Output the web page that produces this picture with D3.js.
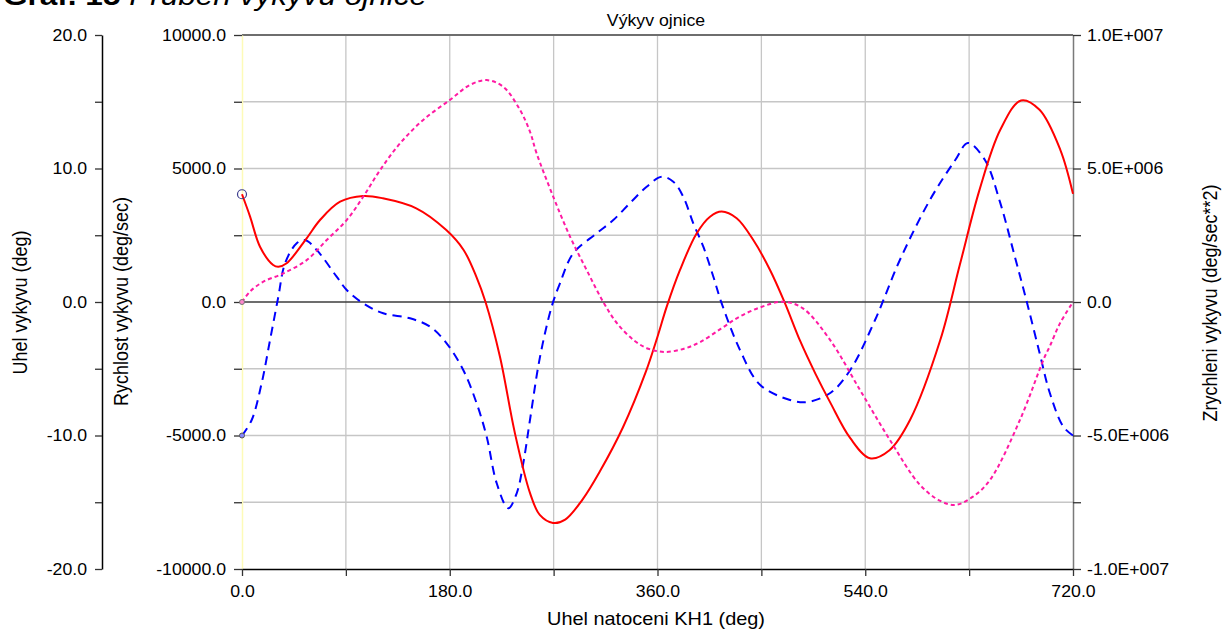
<!DOCTYPE html>
<html>
<head>
<meta charset="utf-8">
<script src="https://cdn.jsdelivr.net/npm/d3@7"></script>
<style>
  html, body { margin: 0; padding: 0; background: #ffffff; }
  svg { display: block; font-family: "Liberation Sans", Arial, sans-serif; }
</style>
</head>
<body>
<svg id="chart" width="1227" height="630"></svg>
<script>
// Crank angle of the KH1 shaft (deg) at which each series was sampled
const angleX = [0, 7, 15.6, 27, 31.5, 38.7, 56, 67.6, 85, 105, 122, 151, 177, 192, 203, 211,
  223.5, 236.5, 249.5, 258, 269.5, 280, 295, 310, 330, 350, 360, 368, 379.5, 394, 405.5,
  415.6, 428.6, 443, 457.5, 470.5, 483.5, 497, 509.5, 527, 544, 561, 579, 605, 622, 639, 657,
  675, 691, 709, 720];
// Swing angle of the connecting rod (deg)
const angleY = [8.07, 6.4, 4.14, 2.77, 2.64, 2.9, 4.77, 6.14, 7.51, 7.94, 7.77, 7.02, 5.39, 3.9, 1.9, 0.0,
  -4.1, -9.84, -14.3, -15.95, -16.55, -16.3, -14.8, -12.7, -9.4, -5.2, -2.6, -0.35, 2.4, 5.15, 6.39,
  6.77, 6.27, 4.64, 2.4, -0.1, -2.9, -5.4, -7.5, -10.2, -11.7, -11.1, -8.8, -2.85, 2.8, 8.4, 12.9,
  15.1, 14.4, 11.4, 8.1];

const velocityX = [0, 8.4, 17, 24.3, 31.5, 37.3, 47.4, 54.6, 64.7, 82, 90.7, 105, 122.4, 145.6, 163,
  177.3, 191.7, 203.3, 212, 220.7, 230.7, 238, 243.7, 249.5, 258, 268.3, 275.5, 287, 307.3, 321.7,
  336, 350.6, 363.6, 373.7, 382.3, 391, 399.7, 408.4, 415.6, 431.5, 448.8, 474.8, 490, 510, 527,
  548.5, 570, 596, 618, 629, 643.7, 656.7, 669.6, 680, 691, 700, 711.6, 720];
// Swing velocity (deg/sec)
const velocityY = [-5000, -4420, -3045, -1423, 200, 1450, 2200, 2322, 1950, 950, 450, -50, -423, -611, -925,
  -1547, -2547, -3794, -5045, -6790, -7727, -7165, -6040, -4420, -2100, -175, 700, 1824, 2573, 3071,
  3697, 4318, 4693, 4506, 3944, 2948, 2071, 948, -50, -1800, -3100, -3670, -3745, -3400, -2547,
  -674, 1573, 3820, 5318, 5955, 5318, 3750, 1700, 0, -1900, -3420, -4670, -5000];

const accelX = [0, 6.9, 18.5, 35.8, 56, 73.4, 90.7, 105, 119.6, 136.9, 157, 180.2, 197.5, 212, 226.4,
  240.9, 249.5, 255, 269.7, 284.2, 298.6, 313, 325, 340, 352, 366.5, 383, 397, 415, 431, 449, 469, 486,
  509.5, 535.5, 561.4, 587.4, 605, 618, 633, 648, 674, 695, 700, 708.7, 720];
// Swing acceleration (deg/sec**2)
const accelY = [0, 0.39e6, 0.76e6, 1.07e6, 1.57e6, 2.32e6, 3.07e6, 3.94e6, 4.94e6, 5.94e6, 6.82e6, 7.57e6, 8.13e6, 8.31e6, 8.06e6,
  7.19e6, 6.38e6, 5.6e6, 3.94e6, 2.45e6, 1.2e6, 0.0, -0.8e6, -1.45e6, -1.75e6, -1.87e6, -1.75e6, -1.5e6, -1.0e6, -0.55e6, -0.2e6, 0.01e6, -0.24e6,
  -1.42e6, -3.3e6, -5.17e6, -6.85e6, -7.45e6, -7.6e6, -7.3e6, -6.67e6, -4.42e6, -2.1e6, -1.65e6, -0.8e6, 0];

// Axis ticks and their labels
const xTicks = [0, 90, 180, 270, 360, 450, 540, 630, 720];
const xTickLabels = ["0.0", "", "180.0", "", "360.0", "", "540.0", "", "720.0"];
const angleTicks = [-20, -15, -10, -5, 0, 5, 10, 15, 20];
const angleTickLabels = ["-20.0", "", "-10.0", "", "0.0", "", "10.0", "", "20.0"];
const velocityTicks = [-10000, -7500, -5000, -2500, 0, 2500, 5000, 7500, 10000];
const velocityTickLabels = ["-10000.0", "", "-5000.0", "", "0.0", "", "5000.0", "", "10000.0"];
const accelTicks = [-1e7, -7.5e6, -5e6, -2.5e6, 0, 2.5e6, 5e6, 7.5e6, 1e7];
const accelTickLabels = ["-1.0E+007", "", "-5.0E+006", "", "0.0", "", "5.0E+006", "", "1.0E+007"];

const svg = d3.select("#chart");
const SX = 1.107; // horizontal text stretch of the exported figure
const plot = { left: 242, right: 1073, top: 35, bottom: 569 };

const x = d3.scaleLinear().domain([0, 720]).range([plot.left, plot.right]);
const yAngle = d3.scaleLinear().domain([-20, 20]).range([plot.bottom, plot.top]);
const yVel = d3.scaleLinear().domain([-10000, 10000]).range([plot.bottom, plot.top]);
const yAcc = d3.scaleLinear().domain([-1e7, 1e7]).range([plot.bottom, plot.top]);

function stretch(sel) {
  sel.each(function () {
    const t = d3.select(this);
    const ax = +t.attr("x") || 0, ay = +t.attr("y") || 0;
    t.attr("transform", `translate(${ax},${ay}) scale(${SX},1) translate(${-ax},${-ay})`);
  });
}

// Document caption (clipped at the top edge)
const cap = svg.append("text").attr("x", 3).attr("y", 5)
  .attr("font-size", 28.5).attr("fill", "#000");
cap.append("tspan").attr("font-weight", "bold").text("Graf. 15 ");
cap.append("tspan").attr("font-style", "italic").text("Průběh výkyvu ojnice");
stretch(cap);

// Grid
const grid = svg.append("g");
grid.selectAll("line.v").data(xTicks.filter(d => d > 0 && d < 720)).join("line")
  .attr("x1", d => x(d)).attr("x2", d => x(d))
  .attr("y1", plot.top).attr("y2", plot.bottom)
  .attr("stroke", "#c6c6c6").attr("stroke-width", 1.3);
grid.selectAll("line.h").data(velocityTicks.filter(d => d !== 0 && Math.abs(d) < 10000)).join("line")
  .attr("x1", plot.left).attr("x2", plot.right)
  .attr("y1", d => yVel(d)).attr("y2", d => yVel(d))
  .attr("stroke", "#c6c6c6").attr("stroke-width", 1.3);

// Frame and zero line
svg.append("line").attr("x1", plot.left).attr("x2", plot.right)
  .attr("y1", plot.top).attr("y2", plot.top).attr("stroke", "#6e6e6e").attr("stroke-width", 2);
svg.append("line").attr("x1", plot.left).attr("x2", plot.right)
  .attr("y1", yVel(0)).attr("y2", yVel(0)).attr("stroke", "#3c3c3c").attr("stroke-width", 1.5);

// Axes
function styleAxis(g, lineColor) {
  g.select(".domain").attr("stroke", lineColor).attr("stroke-width", 1.5);
  g.selectAll(".tick line").attr("stroke", "#333").attr("stroke-width", 1.3);
  g.selectAll(".tick text").attr("font-size", 16).attr("fill", "#000")
    .attr("font-family", "'Liberation Sans', Arial, sans-serif");
  stretch(g.selectAll(".tick text"));
}

const axAngle = svg.append("g").attr("transform", "translate(102,0)")
  .call(d3.axisLeft(yAngle).tickValues(angleTicks).tickSize(7).tickPadding(8).tickSizeOuter(0)
    .tickFormat((d, i) => angleTickLabels[i]));
styleAxis(axAngle, "#000");

const axVel = svg.append("g").attr("transform", `translate(${plot.left},0)`)
  .call(d3.axisLeft(yVel).tickValues(velocityTicks).tickSize(8).tickPadding(8).tickSizeOuter(0)
    .tickFormat((d, i) => velocityTickLabels[i]));
styleAxis(axVel, "#fdfbb8");

const axAcc = svg.append("g").attr("transform", `translate(${plot.right},0)`)
  .call(d3.axisRight(yAcc).tickValues(accelTicks).tickSize(8).tickPadding(6).tickSizeOuter(0)
    .tickFormat((d, i) => accelTickLabels[i]));
styleAxis(axAcc, "#7a7a7a");

const axX = svg.append("g").attr("transform", `translate(0,${plot.bottom})`)
  .call(d3.axisBottom(x).tickValues(xTicks).tickSize(7).tickPadding(10).tickSizeOuter(0)
    .tickFormat((d, i) => xTickLabels[i]));
styleAxis(axX, "#000");

// Axis titles
function title(txt, px, py, size, rotate) {
  const t = svg.append("text").attr("font-size", size).attr("fill", "#000")
    .attr("text-anchor", "middle").text(txt);
  t.attr("transform", `translate(${px},${py}) scale(${SX},1)` + (rotate ? " rotate(-90)" : ""));
  return t;
}
title("Výkyv ojnice", 656, 26, 16, false);
title("Uhel natoceni KH1 (deg)", 656, 625, 18, false);
title("Uhel vykyvu (deg)", 27, 302.5, 18, true);
title("Rychlost vykyvu (deg/sec)", 127.5, 301.5, 18, true);
title("Zrychleni vykyvu (deg/sec**2)", 1216.5, 303, 18, true);

// Curves
const curve = d3.curveCatmullRom.alpha(0.5);
const lineVel = d3.line().x(d => x(d[0])).y(d => yVel(d[1])).curve(curve);
const lineAng = d3.line().x(d => x(d[0])).y(d => yAngle(d[1])).curve(curve);
const lineAcc = d3.line().x(d => x(d[0])).y(d => yAcc(d[1])).curve(curve);

const velPts = velocityX.map((v, i) => [v, velocityY[i]]);
const angPts = angleX.map((v, i) => [v, angleY[i]]);
const accPts = accelX.map((v, i) => [v, accelY[i]]);

svg.append("path").datum(velPts).attr("d", lineVel)
  .attr("fill", "none").attr("stroke", "#0000ff").attr("stroke-width", 2)
  .attr("stroke-dasharray", "9,6");
svg.append("path").datum(angPts).attr("d", lineAng)
  .attr("fill", "none").attr("stroke", "#ff0000").attr("stroke-width", 2);
svg.append("path").datum(accPts).attr("d", lineAcc)
  .attr("fill", "none").attr("stroke", "#ff1aa3").attr("stroke-width", 2)
  .attr("stroke-dasharray", "4,3");

// Start markers
svg.append("circle").attr("cx", x(angPts[0][0])).attr("cy", yAngle(angPts[0][1])).attr("r", 4.5)
  .attr("fill", "none").attr("stroke", "#3a3a8c").attr("stroke-width", 1.2);
svg.append("circle").attr("cx", x(velPts[0][0])).attr("cy", yVel(velPts[0][1])).attr("r", 2.5)
  .attr("fill", "#8888ff").attr("stroke", "#555").attr("stroke-width", 1);
svg.append("circle").attr("cx", x(accPts[0][0])).attr("cy", yAcc(accPts[0][1])).attr("r", 2.5)
  .attr("fill", "#ff88cc").attr("stroke", "#777").attr("stroke-width", 1);
</script>
</body>
</html>
